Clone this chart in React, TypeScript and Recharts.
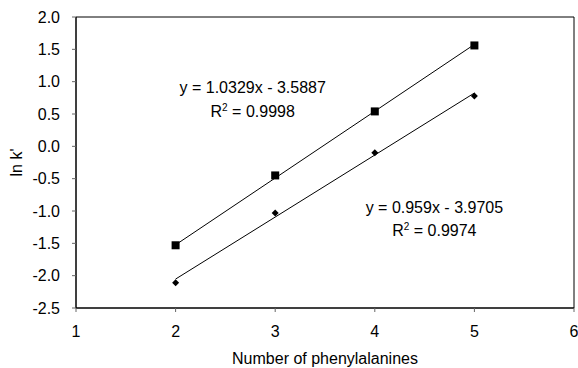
import React from "react";
import {
  ComposedChart,
  Scatter,
  XAxis,
  YAxis,
  ReferenceArea,
  ReferenceDot,
  Label,
} from "recharts";

// Data
const phenylalanines = [2, 3, 4, 5];
const seriesSquare = [-1.53, -0.45, 0.54, 1.56];
const seriesDiamond = [-2.11, -1.03, -0.1, 0.78];
const trendX = [2, 5];
const trendSquare = [-1.523, 1.576];
const trendDiamond = [-2.0525, 0.8245];
const xTicks = [1, 2, 3, 4, 5, 6];
const yTicks = [-2.5, -2.0, -1.5, -1.0, -0.5, 0.0, 0.5, 1.0, 1.5, 2.0];
const eqSquare = "y = 1.0329x - 3.5887";
const r2Square = "0.9998";
const eqDiamond = "y = 0.959x - 3.9705";
const r2Diamond = "0.9974";

const squareData = phenylalanines.map((x, i) => ({ x, y: seriesSquare[i] }));
const diamondData = phenylalanines.map((x, i) => ({ x, y: seriesDiamond[i] }));
const trendSquareData = trendX.map((x, i) => ({ x, y: trendSquare[i] }));
const trendDiamondData = trendX.map((x, i) => ({ x, y: trendDiamond[i] }));

const FONT = "'Liberation Sans', Arial, sans-serif";
const FS = 16;

const SquareShape = (p: any) => (
  <rect x={p.cx - 4} y={p.cy - 4} width={8} height={8} fill="#000" />
);
const DiamondShape = (p: any) => (
  <polygon
    points={`${p.cx},${p.cy - 3.5} ${p.cx + 3.5},${p.cy} ${p.cx},${p.cy + 3.5} ${p.cx - 3.5},${p.cy}`}
    fill="#000"
  />
);
const NoShape = () => <g />;

const textShape = (content: string) => (p: any) => (
  <text
    x={p.cx}
    y={p.cy}
    textAnchor="middle"
    fontFamily={FONT}
    fontSize={FS}
    fill="#000"
  >
    {content}
  </text>
);
const r2Shape = (val: string) => (p: any) => (
  <text
    x={p.cx}
    y={p.cy}
    textAnchor="middle"
    fontFamily={FONT}
    fontSize={FS}
    fill="#000"
  >
    <tspan>R</tspan>
    <tspan dy={-6} fontSize={10}>2</tspan>
    <tspan dy={6}>{` = ${val}`}</tspan>
  </text>
);

export default function App() {
  return (
    <div style={{ position: "absolute", left: 0, top: 0, background: "#fff" }}>
      <ComposedChart
        width={578}
        height={368}
        margin={{ top: 17, right: 4, bottom: 0, left: 0 }}
      >
        <XAxis
          type="number"
          dataKey="x"
          domain={[1, 6]}
          ticks={xTicks}
          allowDataOverflow
          height={60}
          tickSize={4}
          tickMargin={14}
          axisLine={{ stroke: "#000" }}
          tickLine={{ stroke: "#666" }}
          tick={{ fill: "#000", fontSize: FS, fontFamily: FONT }}
        >
          <Label
            content={(props: any) => {
              const vb = props.viewBox;
              return (
                <text
                  x={vb.x + vb.width / 2}
                  y={364}
                  textAnchor="middle"
                  fontFamily={FONT}
                  fontSize={FS}
                  fill="#000"
                >
                  Number of phenylalanines
                </text>
              );
            }}
          />
        </XAxis>
        <YAxis
          type="number"
          dataKey="y"
          domain={[-2.5, 2]}
          ticks={yTicks}
          allowDataOverflow
          width={76}
          tickSize={4}
          tickMargin={12}
          axisLine={{ stroke: "#000" }}
          tickLine={{ stroke: "#666" }}
          tickFormatter={(v: number) => v.toFixed(1)}
          tick={{ fill: "#000", fontSize: FS, fontFamily: FONT }}
        >
          <Label
            content={(props: any) => {
              const vb = props.viewBox;
              const cx = 22;
              const cy = vb.y + vb.height / 2;
              return (
                <text
                  x={cx}
                  y={cy}
                  textAnchor="middle"
                  transform={`rotate(-90, ${cx}, ${cy})`}
                  fontFamily={FONT}
                  fontSize={FS}
                  fill="#000"
                >
                  ln k'
                </text>
              );
            }}
          />
        </YAxis>
        <ReferenceArea
          x1={1}
          x2={6}
          y1={-2.5}
          y2={2}
          fill="none"
          stroke="#000"
          strokeWidth={1}
        />
        <Scatter
          data={trendSquareData}
          line={{ stroke: "#000", strokeWidth: 1 }}
          shape={NoShape}
          isAnimationActive={false}
        />
        <Scatter
          data={trendDiamondData}
          line={{ stroke: "#000", strokeWidth: 1 }}
          shape={NoShape}
          isAnimationActive={false}
        />
        <Scatter data={squareData} shape={SquareShape} isAnimationActive={false} />
        <Scatter data={diamondData} shape={DiamondShape} isAnimationActive={false} />
        <ReferenceDot x={2.774} y={0.831} r={0} shape={textShape(eqSquare)} />
        <ReferenceDot x={2.774} y={0.46} r={0} shape={r2Shape(r2Square)} />
        <ReferenceDot x={4.598} y={-1.026} r={0} shape={textShape(eqDiamond)} />
        <ReferenceDot x={4.598} y={-1.382} r={0} shape={r2Shape(r2Diamond)} />
      </ComposedChart>
    </div>
  );
}
